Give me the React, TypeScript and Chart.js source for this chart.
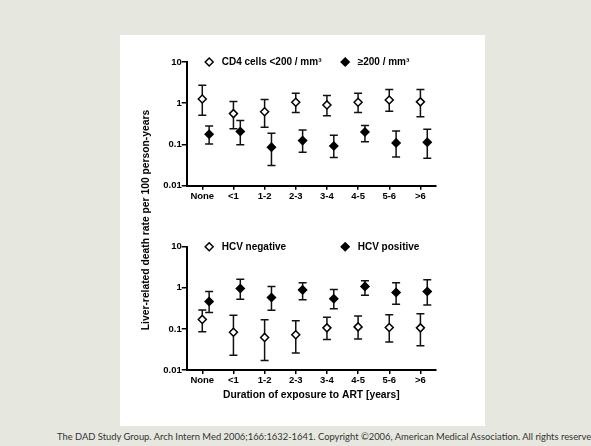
import React, { useEffect, useRef } from "react";
import { Chart, registerables } from "chart.js";
Chart.register(...registerables);

const categories = ["None", "<1", "1-2", "2-3", "3-4", "4-5", "5-6", ">6"];
const yTicks = [0.01, 0.1, 1, 10];
const yTickLabels = ["0.01", "0.1", "1", "10"];

const cd4LowLabel = "CD4 cells <200 / mm³";
const cd4LowRate = [1.27, 0.56, 0.62, 1.06, 0.91, 1.06, 1.2, 1.08];
const cd4LowLower = [0.51, 0.24, 0.26, 0.6, 0.5, 0.6, 0.64, 0.47];
const cd4LowUpper = [2.73, 1.1, 1.23, 1.75, 1.53, 1.75, 2.14, 2.14];

const cd4HighLabel = "≥200 / mm³";
const cd4HighRate = [0.177, 0.206, 0.086, 0.124, 0.092, 0.2, 0.109, 0.113];
const cd4HighLower = [0.103, 0.098, 0.031, 0.065, 0.048, 0.117, 0.05, 0.046];
const cd4HighUpper = [0.28, 0.38, 0.187, 0.225, 0.167, 0.287, 0.213, 0.234];

const hcvNegLabel = "HCV negative";
const hcvNegRate = [0.17, 0.083, 0.062, 0.072, 0.106, 0.112, 0.108, 0.106];
const hcvNegLower = [0.085, 0.023, 0.017, 0.026, 0.055, 0.057, 0.048, 0.039];
const hcvNegUpper = [0.29, 0.216, 0.166, 0.157, 0.193, 0.205, 0.22, 0.233];

const hcvPosLabel = "HCV positive";
const hcvPosRate = [0.465, 0.96, 0.58, 0.89, 0.54, 1.08, 0.77, 0.81];
const hcvPosLower = [0.25, 0.53, 0.286, 0.51, 0.31, 0.66, 0.4, 0.38];
const hcvPosUpper = [0.81, 1.62, 1.08, 1.32, 0.91, 1.48, 1.32, 1.57];

const yTitle = "Liver-related death rate per 100 person-years";
const xTitle = "Duration of exposure to ART [years]";
const footer =
  "The DAD Study Group. Arch Intern Med 2006;166:1632-1641. Copyright ©2006, American Medical Association. All rights reserved.";

const FONT = '"Liberation Sans", Arial, Helvetica, sans-serif';
const FILLED_SHIFT = 0.22;

const errorBarPlugin = {
  id: "errorBars",
  beforeDatasetsDraw(chart: any) {
    const { ctx } = chart;
    const xs = chart.scales.x;
    const ys = chart.scales.y;
    ctx.save();
    ctx.strokeStyle = "#111";
    ctx.lineWidth = 1.5;
    chart.data.datasets.forEach((ds: any) => {
      ds.data.forEach((p: any) => {
        const x = xs.getPixelForValue(p.x);
        const y1 = ys.getPixelForValue(p.lo);
        const y2 = ys.getPixelForValue(p.hi);
        ctx.beginPath();
        ctx.moveTo(x, y1);
        ctx.lineTo(x, y2);
        ctx.moveTo(x - 4, y1);
        ctx.lineTo(x + 4, y1);
        ctx.moveTo(x - 4, y2);
        ctx.lineTo(x + 4, y2);
        ctx.stroke();
      });
    });
    ctx.restore();
  },
};

const insideLegendPlugin = {
  id: "insideLegend",
  afterDraw(chart: any, _args: any, opts: any) {
    const { ctx, chartArea } = chart;
    const y = chartArea.top;
    chart.data.datasets.forEach((ds: any, i: number) => {
      const x = chartArea.left + opts.offsets[i];
      ctx.save();
      ctx.beginPath();
      ctx.moveTo(x - 4, y);
      ctx.lineTo(x, y - 4);
      ctx.lineTo(x + 4, y);
      ctx.lineTo(x, y + 4);
      ctx.closePath();
      ctx.fillStyle = ds.pointBackgroundColor;
      ctx.fill();
      ctx.lineWidth = 1.5;
      ctx.strokeStyle = "#000";
      ctx.stroke();
      ctx.font = `bold 10px ${FONT}`;
      ctx.textBaseline = "middle";
      ctx.textAlign = "left";
      ctx.fillStyle = "#000";
      ctx.fillText(ds.label, x + 12.5, y + 0.5);
      ctx.restore();
    });
  },
};

function makeData(rate: number[], lo: number[], hi: number[], shift: number) {
  return rate.map((v, i) => ({ x: i + shift, y: v, lo: lo[i], hi: hi[i] }));
}

function makeConfig(
  open: { label: string; rate: number[]; lo: number[]; hi: number[] },
  filled: { label: string; rate: number[]; lo: number[]; hi: number[] },
  padTop: number,
  xAxisHeight: number,
  showXTitle: boolean
): any {
  return {
    type: "scatter",
    data: {
      datasets: [
        {
          label: open.label,
          data: makeData(open.rate, open.lo, open.hi, 0),
          pointStyle: "rectRot",
          pointRadius: 4,
          pointBorderWidth: 1.5,
          pointBackgroundColor: "#ffffff",
          pointBorderColor: "#000000",
          showLine: false,
        },
        {
          label: filled.label,
          data: makeData(filled.rate, filled.lo, filled.hi, FILLED_SHIFT),
          pointStyle: "rectRot",
          pointRadius: 4,
          pointBorderWidth: 1.5,
          pointBackgroundColor: "#000000",
          pointBorderColor: "#000000",
          showLine: false,
        },
      ],
    },
    options: {
      responsive: false,
      animation: false,
      events: [],
      layout: { padding: { top: padTop, right: 49, left: 0, bottom: 0 } },
      plugins: {
        legend: { display: false },
        tooltip: { enabled: false },
        insideLegend: { offsets: [22.5, 158.5] },
      },
      scales: {
        x: {
          type: "linear",
          min: -0.5,
          max: 7.5,
          afterBuildTicks: (s: any) => {
            s.ticks = categories.map((_, i) => ({ value: i }));
          },
          afterFit: (s: any) => {
            s.height = xAxisHeight;
          },
          ticks: {
            autoSkip: false,
            maxRotation: 0,
            padding: 1,
            color: "#000",
            font: { family: FONT, size: 9.5, weight: "bold" },
            callback: (v: any) => categories[Math.round(Number(v))],
          },
          grid: {
            drawOnChartArea: false,
            drawTicks: true,
            tickLength: 4,
            color: "#000",
            lineWidth: 1.5,
          },
          border: { display: true, color: "#000", width: 2 },
          title: {
            display: showXTitle,
            text: xTitle,
            color: "#000",
            font: { family: FONT, size: 10.3, weight: "bold" },
            padding: { top: 0, bottom: 8.8 },
          },
        },
        y: {
          type: "logarithmic",
          min: 0.01,
          max: 10,
          afterBuildTicks: (s: any) => {
            s.ticks = yTicks.map((v) => ({ value: v }));
          },
          afterFit: (s: any) => {
            s.width = 66.7;
          },
          ticks: {
            padding: 0,
            color: "#000",
            font: { family: FONT, size: 9.5, weight: "bold" },
            callback: (_v: any, i: number) => yTickLabels[i],
          },
          grid: {
            drawOnChartArea: false,
            drawTicks: true,
            tickLength: 5,
            color: "#000",
            lineWidth: 1.5,
          },
          border: { display: true, color: "#000", width: 2 },
        },
      },
    },
    plugins: [errorBarPlugin, insideLegendPlugin],
  };
}

export default function App() {
  const topRef = useRef<HTMLCanvasElement | null>(null);
  const botRef = useRef<HTMLCanvasElement | null>(null);

  useEffect(() => {
    const top = new Chart(
      topRef.current as HTMLCanvasElement,
      makeConfig(
        { label: cd4LowLabel, rate: cd4LowRate, lo: cd4LowLower, hi: cd4LowUpper },
        { label: cd4HighLabel, rate: cd4HighRate, lo: cd4HighLower, hi: cd4HighUpper },
        24,
        24.3,
        false
      )
    );
    const bot = new Chart(
      botRef.current as HTMLCanvasElement,
      makeConfig(
        { label: hcvNegLabel, rate: hcvNegRate, lo: hcvNegLower, hi: hcvNegUpper },
        { label: hcvPosLabel, rate: hcvPosRate, lo: hcvPosLower, hi: hcvPosUpper },
        21.7,
        40,
        true
      )
    );
    return () => {
      top.destroy();
      bot.destroy();
    };
  }, []);

  return (
    <div
      style={{
        position: "fixed",
        left: 0,
        top: 0,
        width: 591,
        height: 446,
        background: "#e6e8df",
        overflow: "hidden",
      }}
    >
      <div
        style={{
          position: "absolute",
          left: 120,
          top: 35,
          width: 365,
          height: 391,
          background: "#ffffff",
        }}
      />
      <canvas
        ref={topRef}
        width={365}
        height={172}
        style={{ position: "absolute", left: 120, top: 38, width: 365, height: 172 }}
      />
      <canvas
        ref={botRef}
        width={365}
        height={185}
        style={{ position: "absolute", left: 120, top: 225, width: 365, height: 185 }}
      />
      <div
        style={{
          position: "absolute",
          left: 146 - 140,
          top: 220 - 7,
          width: 280,
          height: 14,
          lineHeight: "14px",
          textAlign: "center",
          transform: "rotate(-90deg)",
          transformOrigin: "50% 50%",
          fontFamily: FONT,
          fontWeight: "bold",
          fontSize: 10.3,
          color: "#000",
          whiteSpace: "nowrap",
        }}
      >
        {yTitle}
      </div>
      <div
        style={{
          position: "absolute",
          left: 57,
          top: 431,
          fontFamily: 'Lato, "Liberation Sans", Arial, sans-serif',
          fontSize: 9.4,
          lineHeight: "12px",
          color: "#333",
          whiteSpace: "nowrap",
        }}
      >
        {footer}
      </div>
    </div>
  );
}
